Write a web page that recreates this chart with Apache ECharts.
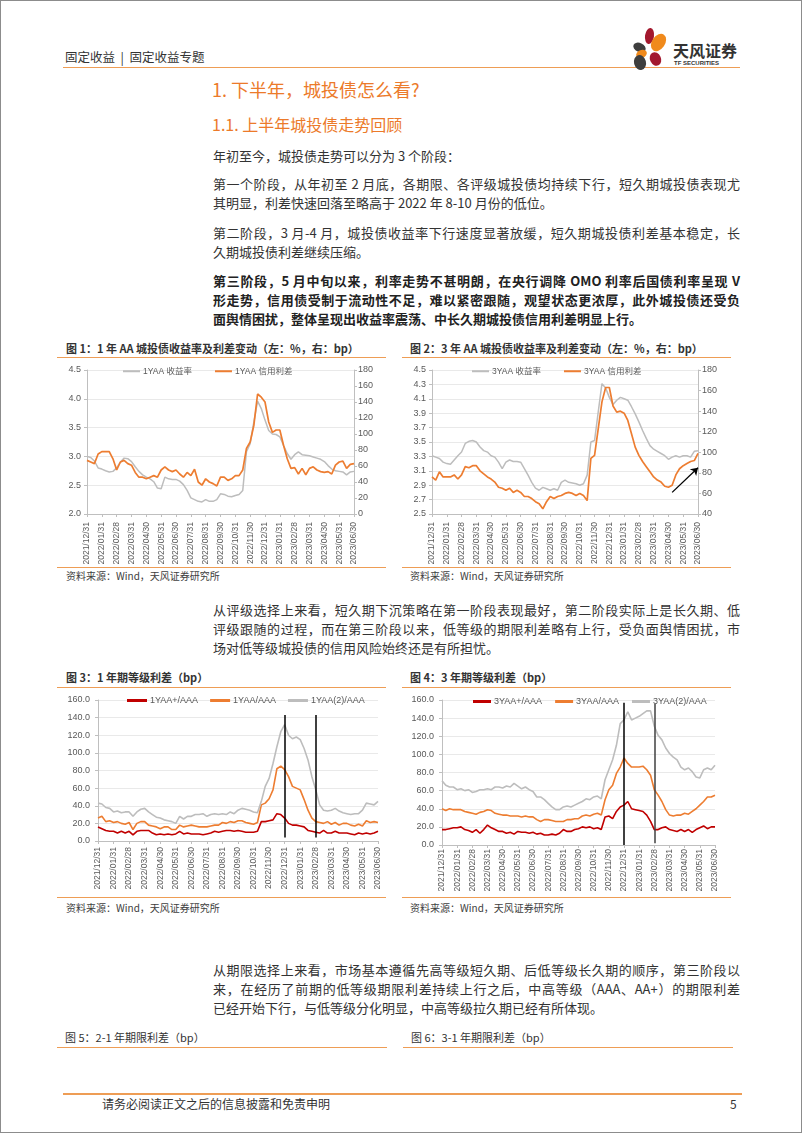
<!DOCTYPE html>
<html><head><meta charset="utf-8">
<script src="https://cdn.jsdelivr.net/npm/echarts@6/dist/echarts.min.js"></script>
<style>
html,body{margin:0;padding:0;background:#fff;}
#page{position:relative;width:802px;height:1133px;overflow:hidden;font-family:"Noto Sans CJK SC","Noto Sans",sans-serif;color:#333;background:#fff;}
#frame{position:absolute;left:0;top:0;width:800px;height:1131px;border:1px solid #8c8c8c;pointer-events:none;}
.abs{position:absolute;white-space:nowrap;}
.hl{position:absolute;height:0;border-top:1.5px solid #EE9D55;}
.p{position:absolute;left:213px;width:527px;font-size:13px;line-height:19px;height:19px;white-space:nowrap;color:#333;}
.j{text-align:justify;text-align-last:justify;}
.b{font-weight:bold;color:#222;}
.cap{position:absolute;font-size:11px;font-weight:bold;line-height:14px;white-space:nowrap;color:#333;}
.src{position:absolute;font-size:10px;line-height:13px;white-space:nowrap;color:#404040;}
.chart{position:absolute;}
.petal{position:absolute;border-radius:50%;}
</style>
</head><body>
<div id="page">
  <!-- header -->
  <div class="abs" style="left:65px;top:49px;font-size:12.5px;line-height:16px;color:#333;">固定收益 &nbsp;|&nbsp; 固定收益专题</div>
  <div class="hl" style="left:63px;top:67px;width:677px;"></div>
  <div class="petal" style="left:645px;top:28px;width:9px;height:16px;background:#A3182E;transform:rotate(8deg);"></div>
  <div class="petal" style="left:652px;top:33px;width:13px;height:19px;background:#F08A1C;transform:rotate(35deg);"></div>
  <div class="petal" style="left:633px;top:43px;width:13px;height:9px;background:#3E3E3E;transform:rotate(25deg);"></div>
  <div class="petal" style="left:636px;top:50px;width:11px;height:8px;background:#F08A1C;transform:rotate(-20deg);"></div>
  <div class="petal" style="left:634px;top:55px;width:12px;height:15px;background:#3E3E3E;transform:rotate(-15deg);"></div>
  <div class="petal" style="left:650px;top:52px;width:11px;height:14px;background:#A3182E;transform:rotate(-25deg);"></div>
  <div class="abs" style="left:673px;top:40px;font-size:16px;line-height:20px;font-weight:bold;color:#333;letter-spacing:0px;">天风证券</div>
  <div class="abs" style="left:674px;top:60px;font-size:6px;line-height:7px;font-weight:bold;color:#333;font-family:'Liberation Sans',sans-serif;">TF SECURITIES</div>

  <!-- titles -->
  <div class="abs" style="left:212px;top:77px;font-size:18px;line-height:25px;color:#EC7A2A;">1. 下半年，城投债怎么看?</div>
  <div class="abs" style="left:212px;top:113px;font-size:16px;line-height:22px;color:#EC7A2A;">1.1. 上半年城投债走势回顾</div>

  <div class="p" style="top:146px;">年初至今，城投债走势可以分为 3 个阶段：</div>
  <div class="p j" style="top:174px;">第一个阶段，从年初至 2 月底，各期限、各评级城投债均持续下行，短久期城投债表现尤</div>
  <div class="p" style="top:193px;">其明显，利差快速回落至略高于 2022 年 8-10 月份的低位。</div>
  <div class="p j" style="top:223px;">第二阶段，3 月-4 月，城投债收益率下行速度显著放缓，短久期城投债利差基本稳定，长</div>
  <div class="p" style="top:242px;">久期城投债利差继续压缩。</div>
  <div class="p j b" style="top:271px;">第三阶段，5 月中旬以来，利率走势不甚明朗，在央行调降 OMO 利率后国债利率呈现 V</div>
  <div class="p j b" style="top:290px;">形走势，信用债受制于流动性不足，难以紧密跟随，观望状态更浓厚，此外城投债还受负</div>
  <div class="p b" style="top:309px;">面舆情困扰，整体呈现出收益率震荡、中长久期城投债信用利差明显上行。</div>

  <!-- figure 1 & 2 -->
  <div class="cap" style="left:66px;top:341px;">图 1：1 年 AA 城投债收益率及利差变动（左：%，右：bp）</div>
  <div class="cap" style="left:410px;top:341px;">图 2：3 年 AA 城投债收益率及利差变动（左：%，右：bp）</div>
  <div class="hl" style="left:57px;top:357px;width:329px;"></div>
  <div class="hl" style="left:402px;top:357px;width:329px;"></div>
  <div id="c1" class="chart" style="left:58px;top:360px;width:332px;height:206px;"></div>
  <div id="c2" class="chart" style="left:403px;top:360px;width:332px;height:206px;"></div>
  <div class="hl" style="left:57px;top:567px;width:329px;"></div>
  <div class="hl" style="left:402px;top:567px;width:329px;"></div>
  <div class="src" style="left:66px;top:569px;">资料来源：Wind，天风证券研究所</div>
  <div class="src" style="left:410px;top:569px;">资料来源：Wind，天风证券研究所</div>

  <div class="p j" style="top:600px;">从评级选择上来看，短久期下沉策略在第一阶段表现最好，第二阶段实际上是长久期、低</div>
  <div class="p j" style="top:619px;">评级跟随的过程，而在第三阶段以来，低等级的期限利差略有上行，受负面舆情困扰，市</div>
  <div class="p" style="top:638px;">场对低等级城投债的信用风险始终还是有所担忧。</div>

  <!-- figure 3 & 4 -->
  <div class="cap" style="left:66px;top:670px;">图 3：1 年期等级利差（bp）</div>
  <div class="cap" style="left:410px;top:670px;">图 4：3 年期等级利差（bp）</div>
  <div class="hl" style="left:57px;top:687px;width:329px;"></div>
  <div class="hl" style="left:402px;top:687px;width:329px;"></div>
  <div id="c3" class="chart" style="left:58px;top:690px;width:332px;height:205px;"></div>
  <div id="c4" class="chart" style="left:403px;top:690px;width:332px;height:205px;"></div>
  <div class="hl" style="left:57px;top:897px;width:329px;"></div>
  <div class="hl" style="left:402px;top:897px;width:329px;"></div>
  <div class="src" style="left:66px;top:901px;">资料来源：Wind，天风证券研究所</div>
  <div class="src" style="left:410px;top:901px;">资料来源：Wind，天风证券研究所</div>

  <div class="p j" style="top:960px;">从期限选择上来看，市场基本遵循先高等级短久期、后低等级长久期的顺序，第三阶段以</div>
  <div class="p j" style="top:979px;">来，在经历了前期的低等级期限利差持续上行之后，中高等级（AAA、AA+）的期限利差</div>
  <div class="p" style="top:998px;">已经开始下行，与低等级分化明显，中高等级拉久期已经有所体现。</div>

  <div class="cap" style="left:65px;top:1030px;font-weight:normal;">图 5：2-1 年期限利差（bp）</div>
  <div class="cap" style="left:411px;top:1030px;font-weight:normal;">图 6：3-1 年期限利差（bp）</div>
  <div class="hl" style="left:57px;top:1047px;width:330px;"></div>
  <div class="hl" style="left:403px;top:1047px;width:330px;"></div>

  <!-- footer -->
  <div class="hl" style="left:63px;top:1093px;width:679px;border-top-width:2px;"></div>
  <div class="abs" style="left:102px;top:1096px;font-size:12px;line-height:16px;color:#333;">请务必阅读正文之后的信息披露和免责申明</div>
  <div class="abs" style="left:730px;top:1096px;font-size:12px;line-height:16px;color:#333;">5</div>
  <div id="frame"></div>
</div>
<script>
// ---------- data ----------
const tickLabels = ['2021/12/31','2022/01/31','2022/02/28','2022/03/31','2022/04/30','2022/05/31','2022/06/30','2022/07/31','2022/08/31','2022/09/30','2022/10/31','2022/11/30','2022/12/31','2023/01/31','2023/02/28','2023/03/31','2023/04/30','2023/05/31','2023/06/30'];

// Fig 1: 1Y AA yield (%) and credit spread (bp)
const yield1YAA = [3.00,2.98,2.92,2.80, 2.78,2.75,2.73,2.74, 2.80,2.90,2.97,2.96, 2.91,2.82,2.74,2.68, 2.64,2.61,2.56,2.45, 2.44,2.64,2.61,2.60, 2.60,2.57,2.51,2.41, 2.28,2.25,2.22,2.21, 2.25,2.22,2.22,2.25, 2.35,2.34,2.31,2.30, 2.32,2.34,2.41,3.08, 3.22,3.60,3.96,3.83, 3.63,3.45,3.39,3.38, 3.34,3.19,3.05,2.95, 3.03,3.08,3.03,3.02, 3.01,2.99,2.97,2.95, 2.91,2.84,2.78,2.75, 2.74,2.73,2.68,2.73, 2.74];
const spread1YAA = [67,65,63,75, 78,78,78,69, 55,65,67,63, 61,52,46,46, 44,46,48,46, 55,59,55,53, 55,50,46,52, 48,56,40,36, 44,40,38,35, 46,46,42,44, 48,48,55,82, 90,111,150,146, 140,115,102,105, 105,86,69,57, 58,50,57,49, 57,59,55,53, 52,53,50,61, 65,66,57,62, 63];

// Fig 2: 3Y AA yield (%) and credit spread (bp)
const yield3YAA = [3.31,3.29,3.27,3.22, 3.20,3.19,3.25,3.31, 3.36,3.48,3.51,3.52, 3.50,3.43,3.38,3.36, 3.31,3.29,3.22,3.13, 3.22,3.25,3.23,3.23, 3.22,3.13,3.04,2.94, 2.86,2.83,2.87,2.85, 2.83,2.85,2.83,2.94, 2.97,2.94,2.93,2.92, 2.90,2.92,3.04,3.50, 3.52,3.92,4.31,4.25, 4.12,4.02,4.08,4.12, 4.10,4.08,3.99,3.89, 3.78,3.66,3.55,3.45, 3.40,3.37,3.34,3.31, 3.26,3.29,3.31,3.29, 3.31,3.31,3.29,3.37, 3.38];
const spread3YAA = [76,73,81,76, 76,76,78,74, 78,86,85,87, 87,82,79,76, 74,71,66,65, 63,65,61,63, 61,57,57,55, 52,50,45,52, 57,55,57,58, 60,61,60,58, 60,58,53,94, 97,123,149,163, 163,145,139,140, 138,131,118,105, 97,91,86,81, 76,73,71,67, 66,68,78,84, 87,89,91,92, 99];
const fig2Arrow = [['2023/05/07', 61], ['2023/06/30', 85]];

// Fig 3: 1Y rating spreads (bp)
const s1YAAplus = [16,14,12,11, 11,9,11,9, 11,7,11,12, 12,12,9,7, 8,7,8,7, 8,11,8,9, 8,8,8,7, 8,9,11,10, 11,12,12,11, 12,11,10,10, 10,11,22,22, 23,24,31,30, 26,20,18,18, 17,16,12,11, 10,9,12,9, 9,11,9,9, 9,8,7,9, 8,9,8,9, 11];
const s1YAA = [26,28,22,23, 21,22,20,19, 21,13,20,22, 22,18,17,16, 14,16,16,13, 13,18,16,17, 18,17,16,16, 16,17,18,18, 21,20,22,21, 23,23,21,20, 19,21,41,43, 48,58,82,85, 81,73,62,60, 58,47,35,26, 22,21,20,22, 19,21,18,20, 20,18,17,19, 17,23,21,22, 21];
const s1YAA2 = [43,42,38,37, 33,34,32,33, 33,28,33,36, 37,33,30,27, 26,24,23,22, 20,28,25,28, 28,30,30,31, 28,30,31,30, 31,30,33,31, 35,37,36,35, 33,32,45,62, 71,88,107,124, 132,120,116,118, 115,105,92,73, 58,41,35,34, 35,37,34,32, 31,30,31,31, 35,43,42,41, 45];
const fig3Lines = [['2022/12/31', 143, 4], ['2023/02/28', 143, 4]];

// Fig 4: 3Y rating spreads (bp)
const s3YAAplus = [17,17,18,19, 19,20,17,16, 14,17,13,17, 22,19,17,15, 15,13,14,12, 15,14,14,13, 14,12,13,11, 11,12,11,13, 17,15,15,17, 18,20,19,20, 18,19,17,31, 32,29,37,42, 44,48,40,39, 38,37,33,26, 17,17,19,20, 17,16,15,17, 15,17,14,17, 19,21,18,20, 20];
const s3YAA = [40,38,40,39, 39,39,37,36, 35,34,36,37, 39,38,35,34, 33,33,32,32, 32,31,32,31, 31,28,26,28, 28,27,26,26, 26,28,28,29, 29,32,33,32, 34,35,33,50, 61,66,79,86, 96,90,86,86, 86,87,83,77, 61,55,48,39, 33,32,33,33, 35,34,37,40, 44,48,53,53, 55];
const s3YAA2 = [71,66,64,64, 61,62,60,61, 58,59,61,61, 62,61,64,64, 63,65,64,68, 65,62,64,61, 59,53,53,50, 46,42,39,39, 42,43,42,44, 46,48,51,50, 53,54,51,72, 83,94,110,134, 138,147,138,140, 142,145,148,148, 131,121,116,107, 101,97,94,86, 83,85,81,75, 74,83,85,83, 88];
const fig4Lines = [['2022/12/31', 157, 0], ['2023/02/28', 156, 2]];

// ---------- categories: month-end ticks plus weekly points between them ----------
const tickSet = new Set(tickLabels);
function fmtDate(d){
  return d.getUTCFullYear() + '/' + String(d.getUTCMonth()+1).padStart(2,'0') + '/' + String(d.getUTCDate()).padStart(2,'0');
}
const categories = [];
for (let k = 0; k < tickLabels.length - 1; k++) {
  categories.push(tickLabels[k]);
  const [y, m, d] = tickLabels[k].split('/').map(Number);
  for (let w = 1; w <= 3; w++) categories.push(fmtDate(new Date(Date.UTC(y, m - 1, d + 7 * w))));
}
categories.push(tickLabels[tickLabels.length - 1]);

// ---------- styles ----------
const FONT = "'Liberation Sans','Noto Sans CJK SC',sans-serif";
const ORANGE = '#ED7D31', GRAY = '#BDBDBD', RED = '#C00000', AXIS = '#BFBFBF', LABEL = '#595959';

function xAxis(margin){
  return {
    type: 'category', data: categories, boundaryGap: false,
    axisLine: {show: true, lineStyle: {color: AXIS, width: 1}},
    axisTick: {show: true, interval: (i, v) => tickSet.has(v), length: 3, lineStyle: {color: AXIS}},
    axisLabel: {interval: (i, v) => tickSet.has(v), rotate: 90, fontSize: 8.5, color: LABEL, margin: margin, fontFamily: FONT},
    splitLine: {show: false}
  };
}
function yAxis(min, max, interval, digits, split, margin, extra){
  return Object.assign({
    type: 'value', min: min, max: max, interval: interval,
    axisLine: {show: true, lineStyle: {color: AXIS, width: 1}},
    axisTick: {show: true, length: 3, lineStyle: {color: AXIS}},
    axisLabel: {fontSize: 9, color: LABEL, margin: margin, fontFamily: FONT,
      formatter: v => digits == null ? String(v) : Number(v).toFixed(digits)},
    splitLine: {show: split, lineStyle: {color: '#E3E3E3', width: 0.8}}
  }, extra || {});
}
function line(name, data, color, width, yIdx, extra){
  return Object.assign({
    name: name, type: 'line', data: data, yAxisIndex: yIdx || 0,
    symbol: 'none', showSymbol: false, smooth: false,
    lineStyle: {color: color, width: width}, itemStyle: {color: color},
    emphasis: {disabled: true}, animation: false, z: 2
  }, extra || {});
}
function legend(left, top, itemWidth, itemHeight, gap, fs, names){
  return {left: left, top: top, itemWidth: itemWidth, itemHeight: itemHeight, itemGap: gap, icon: 'rect',
    textStyle: {fontSize: fs, color: LABEL, fontFamily: FONT, padding: [0, 0, 0, -2]}, data: names, selectedMode: false};
}
function vLines(list, color){
  return {
    silent: true, symbol: ['none', 'none'], label: {show: false}, animation: false,
    lineStyle: {color: color, width: 1.5, type: 'solid'},
    emphasis: {disabled: true},
    data: list.map(l => [{coord: [l[0], l[1]]}, {coord: [l[0], l[2]]}])
  };
}

// ---------- Fig 1 ----------
echarts.init(document.getElementById('c1')).setOption({
  animation: false,
  grid: {left: 29, right: 36, top: 10, bottom: 52, outerBoundsMode: 'none'},
  legend: legend(60, 2, 17, 2, 23, 8.5, ['1YAA 收益率', '1YAA 信用利差']),
  xAxis: xAxis(8),
  yAxis: [yAxis(2, 4.5, 0.5, 1, true, 6), yAxis(0, 180, 20, null, false, 4)],
  series: [
    line('1YAA 收益率', yield1YAA, GRAY, 1.5, 0),
    line('1YAA 信用利差', spread1YAA, ORANGE, 1.7, 1)
  ]
});

// ---------- Fig 2 ----------
echarts.init(document.getElementById('c2')).setOption({
  animation: false,
  grid: {left: 29, right: 37, top: 10, bottom: 52, outerBoundsMode: 'none'},
  legend: legend(64, 2, 17, 2, 23, 8.5, ['3YAA 收益率', '3YAA 信用利差']),
  xAxis: xAxis(8),
  yAxis: [yAxis(2.5, 4.5, 0.2, 1, true, 6), yAxis(40, 180, 20, null, false, 4)],
  series: [
    line('3YAA 收益率', yield3YAA, GRAY, 1.5, 0),
    line('3YAA 信用利差', spread3YAA, ORANGE, 1.7, 1, {
      markLine: {
        silent: true, symbol: ['none', 'arrow'], symbolSize: 7, label: {show: false}, animation: false,
        lineStyle: {color: '#000', width: 1.3, type: 'solid'}, emphasis: {disabled: true},
        data: [[{coord: fig2Arrow[0]}, {coord: fig2Arrow[1]}]]
      }
    })
  ]
});

// ---------- Fig 3 ----------
echarts.init(document.getElementById('c3')).setOption({
  animation: false,
  grid: {left: 40, right: 12, top: 10, bottom: 54, outerBoundsMode: 'none'},
  legend: legend(64, 1, 20, 3, 12, 9, ['1YAA+/AAA', '1YAA/AAA', '1YAA(2)/AAA']),
  xAxis: xAxis(6),
  yAxis: yAxis(0, 160, 20, 1, true, 8),
  series: [
    line('1YAA+/AAA', s1YAAplus, RED, 1.6, 0, {markLine: vLines(fig3Lines, '#000')}),
    line('1YAA/AAA', s1YAA, ORANGE, 1.6, 0),
    line('1YAA(2)/AAA', s1YAA2, GRAY, 1.6, 0)
  ]
});

// ---------- Fig 4 ----------
echarts.init(document.getElementById('c4')).setOption({
  animation: false,
  grid: {left: 39, right: 20, top: 10, bottom: 50, outerBoundsMode: 'none'},
  legend: legend(65, 2, 18, 3, 13, 9, ['3YAA+/AAA', '3YAA/AAA', '3YAA(2)/AAA']),
  xAxis: xAxis(4),
  yAxis: yAxis(0, 160, 20, 1, true, 8),
  series: [
    line('3YAA+/AAA', s3YAAplus, RED, 1.6, 0, {markLine: vLines(fig4Lines.slice(0, 1), '#000')}),
    line('3YAA/AAA', s3YAA, ORANGE, 1.6, 0, {markLine: vLines(fig4Lines.slice(1), '#404040')}),
    line('3YAA(2)/AAA', s3YAA2, GRAY, 1.6, 0)
  ]
});
</script>
</body></html>
